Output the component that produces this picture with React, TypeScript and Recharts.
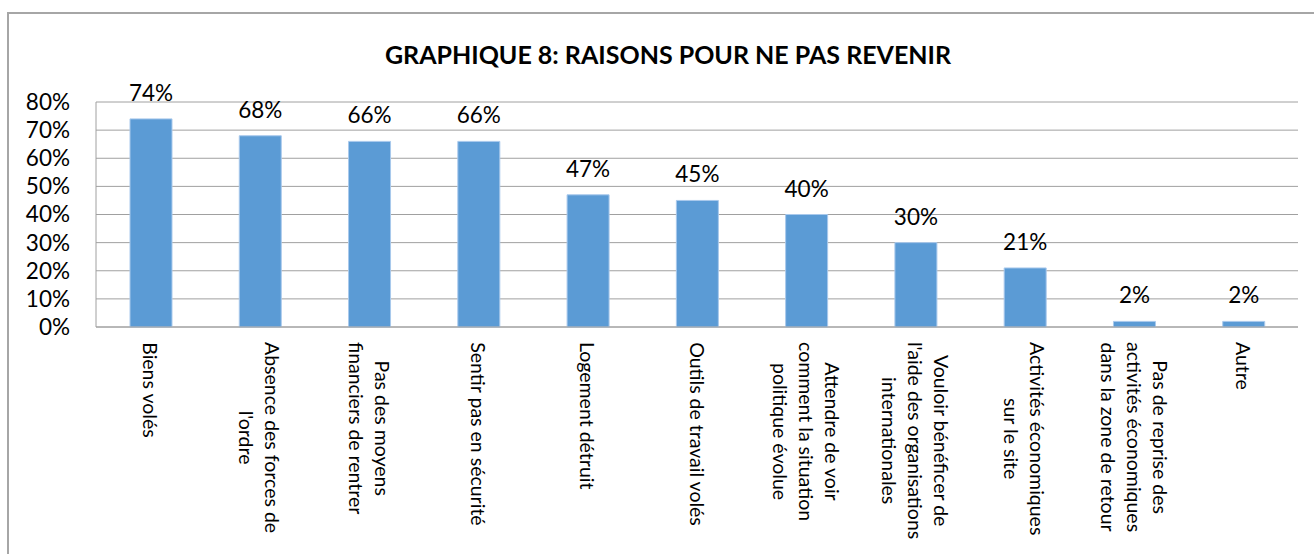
import { BarChart, Bar, XAxis, YAxis, CartesianGrid, LabelList } from "recharts"

// tick labels as they wrap under the axis
const categoryLines: string[][] = [
  ["Biens volés"],
  ["Absence des forces de", "l'ordre"],
  ["Pas des moyens", "financiers de rentrer"],
  ["Sentir pas en sécurité"],
  ["Logement détruit"],
  ["Outils de travail volés"],
  ["Attendre de voir", "comment la situation", "politique évolue"],
  ["Vouloir bénéficer de", "l'aide des organisations", "internationales"],
  ["Activités économiques", "sur le site"],
  ["Pas de reprise des", "activités économiques", "dans la zone de retour"],
  ["Autre"],
]
const categories = categoryLines.map((l) => l.join(" "))
const values = [74, 68, 66, 66, 47, 45, 40, 30, 21, 2, 2]
const yTicks = [0, 10, 20, 30, 40, 50, 60, 70, 80]

const data = categories.map((name, i) => ({ name, value: values[i] }))

const FONT = "Lato, 'Open Sans', sans-serif"
const LABEL_SIZE = 19.5

let ctx: CanvasRenderingContext2D | null = null
function measure(s: string) {
  if (!ctx) ctx = document.createElement("canvas").getContext("2d")
  if (!ctx) return s.length * 9
  ctx.font = `${LABEL_SIZE}px Lato`
  return ctx.measureText(s).width
}

function CategoryTick(props: any) {
  const { x, y, payload } = props
  const lines = categoryLines[payload.index] || [String(payload.value)]
  const maxW = Math.max(...lines.map(measure))
  const start = y + 15
  const n = lines.length
  return (
    <g>
      {lines.map((line, i) => (
        <text
          key={i}
          transform={`translate(${x + ((n - 1) / 2 - i) * 26}, ${start + maxW / 2}) rotate(90)`}
          textAnchor="middle"
          dominantBaseline="central"
          fontSize={LABEL_SIZE}
          fontFamily={FONT}
          fill="#000"
        >
          {line}
        </text>
      ))}
    </g>
  )
}

export default function App() {
  return (
    <div
      style={{
        position: "fixed",
        left: 7,
        top: 12,
        width: 1400,
        height: 600,
        borderLeft: "2px solid #a6a6a6",
        borderTop: "2px solid #a6a6a6",
        background: "#fff",
        fontFamily: FONT,
      }}
    >
      <div
        style={{
          position: "absolute",
          left: 659,
          top: 27,
          transform: "translateX(-50%)",
          whiteSpace: "nowrap",
          fontWeight: 700,
          fontSize: 25,
          lineHeight: "26px",
          color: "#000",
        }}
      >
        GRAPHIQUE 8: RAISONS POUR NE PAS REVENIR
      </div>
      <div style={{ position: "absolute", left: 0, top: 0 }}>
        <BarChart width={1300} height={530} data={data} margin={{ top: 88, right: 11, left: 0, bottom: 0 }}>
          <CartesianGrid vertical={false} stroke="#a0a0a0" />
          <XAxis
            dataKey="name"
            interval={0}
            height={217}
            tickLine={false}
            tickSize={0}
            tickMargin={0}
            stroke="#a0a0a0"
            tick={<CategoryTick />}
          />
          <YAxis
            width={87}
            domain={[0, 80]}
            ticks={yTicks}
            interval={0}
            tickLine={false}
            tickSize={0}
            tickMargin={26}
            stroke="#a0a0a0"
            tickFormatter={(v) => `${v}%`}
            tick={{ fill: "#000", fontSize: 22.5, fontFamily: FONT }}
          />
          <Bar dataKey="value" fill="#5b9bd5" stroke="#a9c9ec" strokeWidth={1} barSize={42} isAnimationActive={false}>
            <LabelList
              dataKey="value"
              position="top"
              offset={18}
              formatter={(v: any) => `${v}%`}
              style={{ fill: "#000", fontSize: 22.5, fontFamily: FONT }}
            />
          </Bar>
        </BarChart>
      </div>
    </div>
  )
}
